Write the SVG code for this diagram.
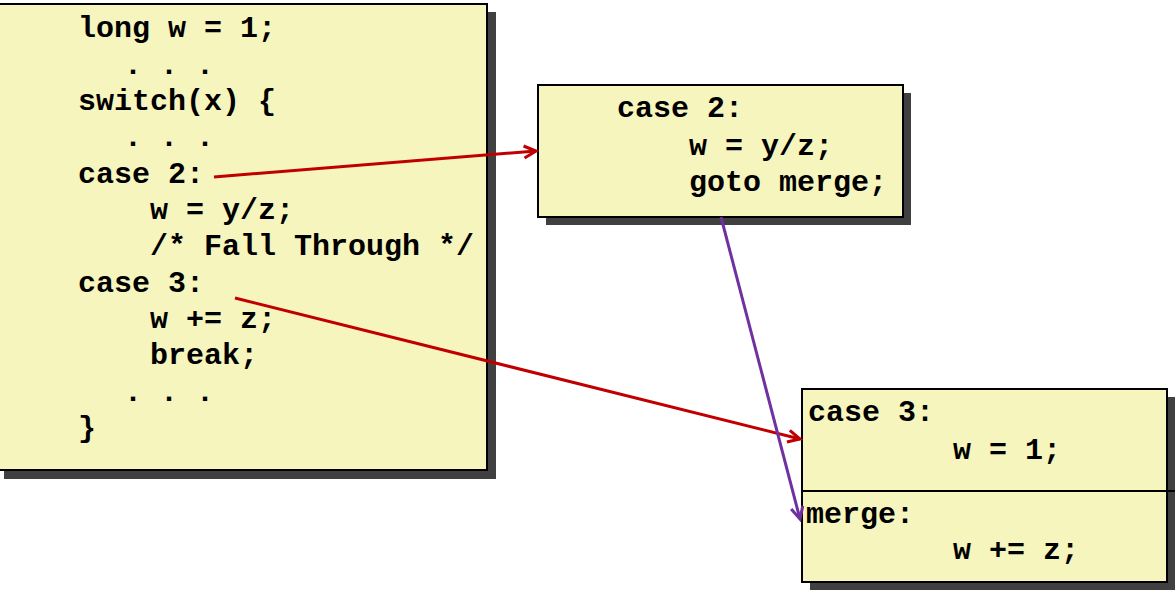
<svg xmlns="http://www.w3.org/2000/svg" width="1175" height="591" viewBox="0 0 1175 591">
<style>
.box{fill:#f6f5be;stroke:#000;stroke-width:2}
.sh{fill:#404040}
.code{font-family:"Liberation Mono","Courier New",monospace;font-weight:bold;font-size:30px;fill:#000;white-space:pre}
.red{stroke:#c00000;stroke-width:3;fill:none}
.pur{stroke:#7030a0;stroke-width:3;fill:none}
</style>
<defs>
<marker id="ar" markerUnits="userSpaceOnUse" markerWidth="16" markerHeight="16" refX="13" refY="7" orient="auto" viewBox="0 0 16 14">
<path d="M1,1 L13,7 L1,13" fill="none" stroke="#c00000" stroke-width="3"/>
</marker>
<marker id="ap" markerUnits="userSpaceOnUse" markerWidth="16" markerHeight="16" refX="13" refY="7" orient="auto" viewBox="0 0 16 14">
<path d="M1,1 L13,7 L1,13" fill="none" stroke="#7030a0" stroke-width="3"/>
</marker>
</defs>
<rect width="1175" height="591" fill="#fff"/>
<g id="source">
<rect class="sh" x="4" y="12" width="492" height="467"/>
<rect class="box" x="-4" y="4" width="491" height="466"/>
<text class="code" x="78" y="37">long w = 1;</text>
<text class="code" x="124" y="73.5">. . .</text>
<text class="code" x="78" y="110">switch(x) {</text>
<text class="code" x="124" y="146">. . .</text>
<text class="code" x="78" y="182.5">case 2:</text>
<text class="code" x="150" y="219">w = y/z;</text>
<text class="code" x="150" y="255">/* Fall Through */</text>
<text class="code" x="78" y="291.5">case 3:</text>
<text class="code" x="150" y="328">w += z;</text>
<text class="code" x="150" y="364">break;</text>
<text class="code" x="124" y="400.5">. . .</text>
<text class="code" x="78" y="437">}</text>
</g>
<g id="case2">
<rect class="sh" x="546" y="93" width="365" height="132"/>
<rect class="box" x="538" y="85" width="365" height="132"/>
<text class="code" x="617" y="117">case 2:</text>
<text class="code" x="689" y="155">w = y/z;</text>
<text class="code" x="689" y="191">goto merge;</text>
</g>
<g id="case3merge">
<rect class="sh" x="810" y="397" width="365" height="193"/>
<rect class="box" x="802" y="389" width="365" height="193"/>
<line x1="802" y1="491" x2="1175" y2="491" stroke="#000" stroke-width="2"/>
<text class="code" x="808" y="421">case 3:</text>
<text class="code" x="953" y="459">w = 1;</text>
<text class="code" x="806" y="523">merge:</text>
<text class="code" x="953" y="559">w += z;</text>
</g>
<g id="connectors">
<line class="red" x1="214" y1="177" x2="536" y2="151" marker-end="url(#ar)"/>
<line class="red" x1="235" y1="298" x2="800" y2="439" marker-end="url(#ar)"/>
<line class="pur" x1="721" y1="217" x2="800" y2="519" marker-end="url(#ap)"/>
</g>
</svg>
